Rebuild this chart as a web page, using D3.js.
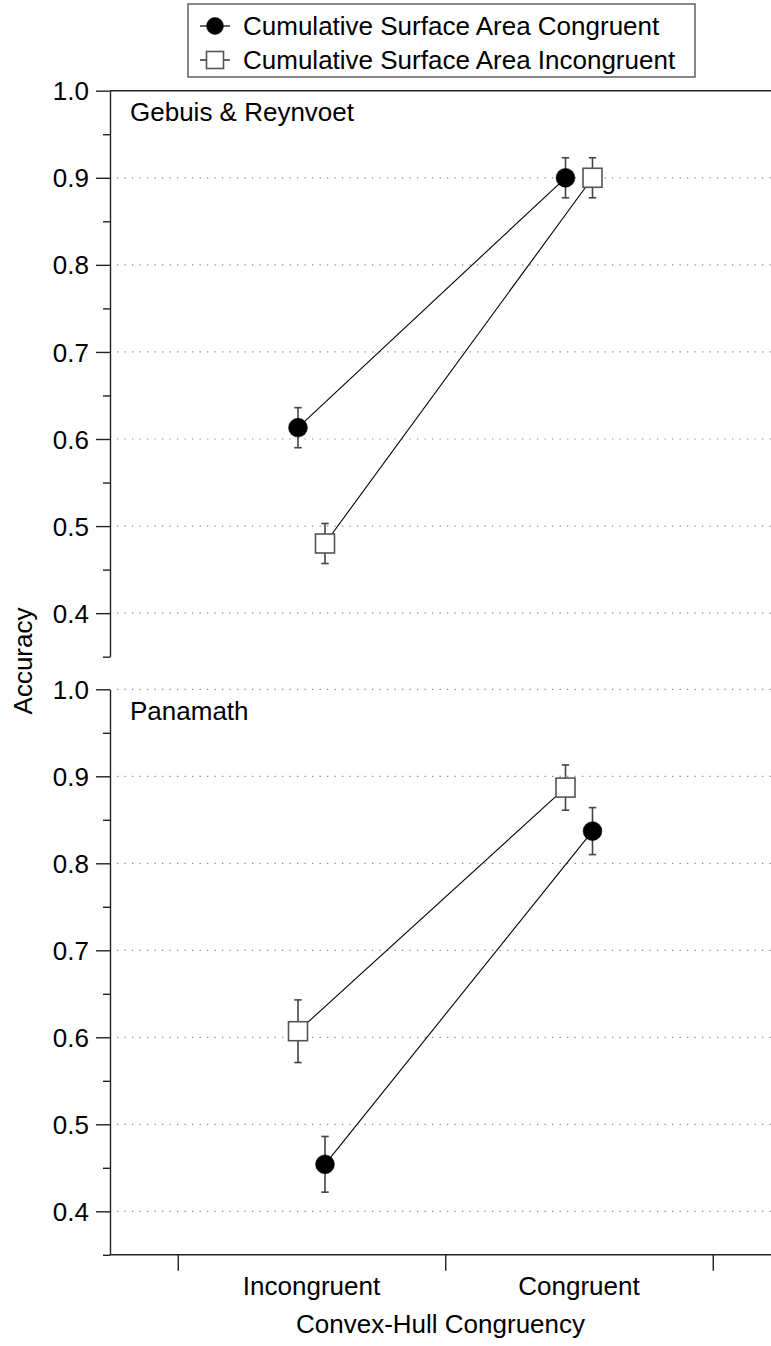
<!DOCTYPE html>
<html>
<head>
<meta charset="utf-8">
<script src="https://cdn.jsdelivr.net/npm/d3@7"></script>
<style>
  html, body { margin: 0; padding: 0; background: #fff; }
  svg { display: block; font-family: "Liberation Sans", Arial, sans-serif; }
</style>
</head>
<body>
<svg id="chart" width="771" height="1346"></svg>
<script>
// Categories on the x axis (convex-hull congruency)
const categories = ["Incongruent", "Congruent"];
// Series (cumulative surface area congruency)
const seriesNames = ["Cumulative Surface Area Congruent", "Cumulative Surface Area Incongruent"];
// Panels (stimulus sets)
const panelNames = ["Gebuis & Reynvoet", "Panamath"];

// Mean accuracy and standard error per category
const gebuisCongruent = [0.613, 0.900];
const gebuisCongruentErr = [0.023, 0.023];
const gebuisIncongruent = [0.480, 0.900];
const gebuisIncongruentErr = [0.023, 0.023];

const panamathCongruent = [0.454, 0.837];
const panamathCongruentErr = [0.032, 0.027];
const panamathIncongruent = [0.607, 0.887];
const panamathIncongruentErr = [0.036, 0.026];

// Axis ticks
const yMajorTicks = [0.4, 0.5, 0.6, 0.7, 0.8, 0.9, 1.0];
const yMinorTicks = [0.35, 0.45, 0.55, 0.65, 0.75, 0.85, 0.95];
const xBoundaryTicks = [0.5, 1.5, 2.5];

const svg = d3.select("#chart");
const FONT = 26;
const leftX = 110, rightX = 771;
const dodge = 13.5;

const x = d3.scaleLinear().domain([0.5, 2.5]).range([177.75, 712.75]);

const panels = [
  {
    name: panelNames[0],
    top: 90.7, bottom: 656.7,
    // dodge direction per series: circle left, square right
    side: [-1, 1],
    means: [gebuisCongruent, gebuisIncongruent],
    errs: [gebuisCongruentErr, gebuisIncongruentErr],
    frameTop: true
  },
  {
    name: panelNames[1],
    top: 689.3, bottom: 1254.8,
    side: [1, -1],
    means: [panamathCongruent, panamathIncongruent],
    errs: [panamathCongruentErr, panamathIncongruentErr],
    frameTop: false
  }
];

const markerR = 9.4;
const squareS = 19;

function drawMarker(g, cx, cy, s, r, sq) {
  if (s === 0) {
    g.append("circle").attr("cx", cx).attr("cy", cy).attr("r", r)
      .attr("fill", "#000").attr("stroke", "#000").attr("stroke-width", 0.6);
  } else {
    g.append("rect").attr("x", cx - sq / 2).attr("y", cy - sq / 2)
      .attr("width", sq).attr("height", sq)
      .attr("fill", "#fff").attr("stroke", "#555").attr("stroke-width", 1.6);
  }
}

panels.forEach((p, pi) => {
  const y = d3.scaleLinear().domain([0.35, 1.0]).range([p.bottom, p.top]);
  const g = svg.append("g");

  // dotted gridlines
  const gridVals = yMajorTicks.filter(v => p.frameTop ? v < 1.0 : true);
  g.selectAll("line.grid").data(gridVals).join("line")
    .attr("class", "grid")
    .attr("x1", leftX + 7).attr("x2", rightX)
    .attr("y1", d => y(d)).attr("y2", d => y(d))
    .attr("stroke", "#8a8a8a").attr("stroke-width", 1.2)
    .attr("stroke-dasharray", "1.3,6.2");

  // solid top frame line
  if (p.frameTop) {
    g.append("line")
      .attr("x1", leftX).attr("x2", rightX)
      .attr("y1", y(1.0)).attr("y2", y(1.0))
      .attr("stroke", "#222").attr("stroke-width", 1.4);
  }

  // y axis major ticks with labels
  const axMajor = g.append("g").attr("transform", `translate(${leftX},0)`)
    .call(d3.axisLeft(y).tickValues(yMajorTicks).tickSize(14).tickSizeOuter(0)
      .tickPadding(7).tickFormat(d3.format(".1f")));
  axMajor.select(".domain").attr("stroke", "#222").attr("stroke-width", 1.4);
  axMajor.selectAll(".tick line").attr("stroke", "#222").attr("stroke-width", 1.4);
  axMajor.selectAll(".tick text")
    .attr("font-size", FONT).attr("font-family", "Liberation Sans, Arial, sans-serif")
    .attr("fill", "#000").attr("dy", "0.35em");

  // y axis minor ticks
  const axMinor = g.append("g").attr("transform", `translate(${leftX},0)`)
    .call(d3.axisLeft(y).tickValues(yMinorTicks).tickSize(7).tickFormat(""));
  axMinor.select(".domain").remove();
  axMinor.selectAll(".tick line").attr("stroke", "#222").attr("stroke-width", 1.4);

  // panel title
  g.append("text").attr("x", 130).attr("y", p.top + 30.5)
    .attr("font-size", FONT).attr("fill", "#000").text(p.name);

  // connecting lines
  p.means.forEach((vals, s) => {
    const pts = vals.map((v, i) => [x(i + 1) + p.side[s] * dodge, y(v)]);
    g.append("path").attr("d", d3.line()(pts))
      .attr("fill", "none").attr("stroke", "#000").attr("stroke-width", 1.1);
  });

  // error bars
  p.means.forEach((vals, s) => {
    vals.forEach((v, i) => {
      const cx = x(i + 1) + p.side[s] * dodge;
      const e = p.errs[s][i];
      const eg = g.append("g").attr("stroke", "#444").attr("stroke-width", 1.6);
      eg.append("line").attr("x1", cx).attr("x2", cx).attr("y1", y(v + e)).attr("y2", y(v - e));
      eg.append("line").attr("x1", cx - 3.7).attr("x2", cx + 3.7).attr("y1", y(v + e)).attr("y2", y(v + e));
      eg.append("line").attr("x1", cx - 3.7).attr("x2", cx + 3.7).attr("y1", y(v - e)).attr("y2", y(v - e));
    });
  });

  // markers
  p.means.forEach((vals, s) => {
    vals.forEach((v, i) => {
      drawMarker(g, x(i + 1) + p.side[s] * dodge, y(v), s, markerR, squareS);
    });
  });

  // x axis on the lower panel
  if (pi === panels.length - 1) {
    const yb = y(0.35);
    g.append("line").attr("x1", leftX).attr("x2", rightX)
      .attr("y1", yb).attr("y2", yb)
      .attr("stroke", "#222").attr("stroke-width", 1.4);
    const ax = g.append("g").attr("transform", `translate(0,${yb})`)
      .call(d3.axisBottom(x).tickValues(xBoundaryTicks).tickSize(16).tickFormat(""));
    ax.select(".domain").remove();
    ax.selectAll(".tick line").attr("stroke", "#222").attr("stroke-width", 1.4);

    g.selectAll("text.cat").data(categories).join("text")
      .attr("class", "cat")
      .attr("x", (d, i) => x(i + 1)).attr("y", 1295)
      .attr("text-anchor", "middle").attr("font-size", FONT).attr("fill", "#000")
      .text(d => d);

    g.append("text").attr("x", (leftX + rightX) / 2).attr("y", 1333)
      .attr("text-anchor", "middle").attr("font-size", FONT).attr("fill", "#000")
      .text("Convex-Hull Congruency");
  }
});

// y axis title
svg.append("text")
  .attr("transform", "translate(32,661) rotate(-90)")
  .attr("text-anchor", "middle").attr("font-size", FONT).attr("fill", "#000")
  .text("Accuracy");

// legend
const legend = svg.append("g");
legend.append("rect").attr("x", 188).attr("y", 4).attr("width", 507).attr("height", 73)
  .attr("fill", "#fff").attr("stroke", "#555").attr("stroke-width", 1.4);
const legendRows = [26, 60];
seriesNames.forEach((name, s) => {
  const cy = legendRows[s];
  legend.append("line").attr("x1", 200).attr("x2", 230).attr("y1", cy).attr("y2", cy)
    .attr("stroke", "#000").attr("stroke-width", 1.2);
  drawMarker(legend, 215, cy, s, 8.4, 17);
  legend.append("text").attr("x", 243).attr("y", cy + 9.3)
    .attr("font-size", FONT).attr("fill", "#000").text(name);
});
</script>
</body>
</html>
